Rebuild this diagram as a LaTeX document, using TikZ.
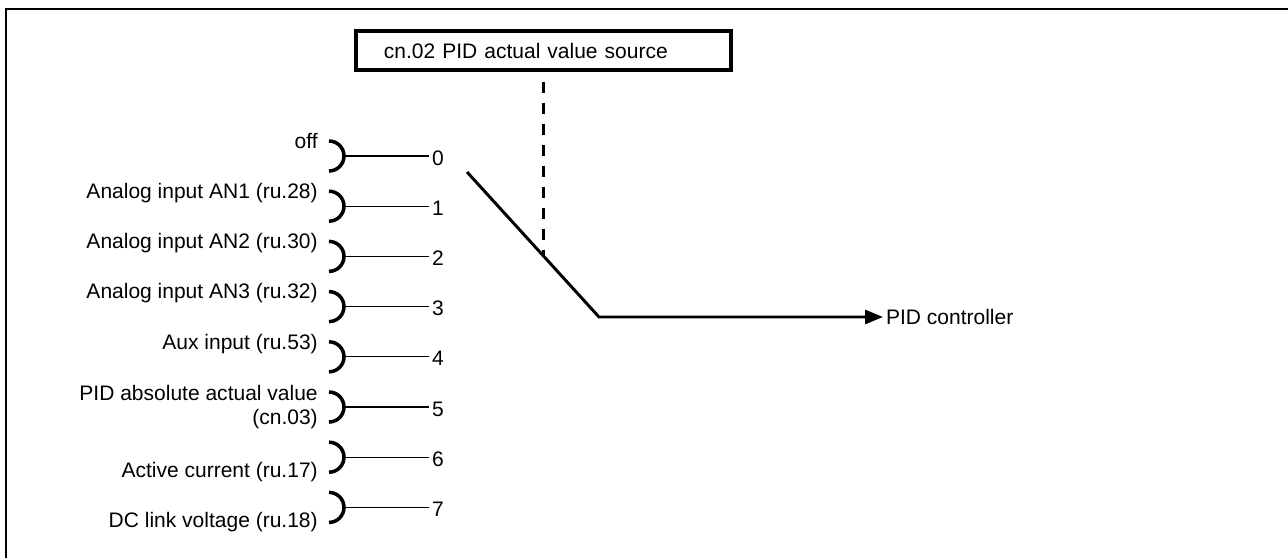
\documentclass[tikz,border=0pt]{standalone}
\usepackage{fontspec}
\setmainfont{Liberation Sans}
\usetikzlibrary{positioning, calc, arrows.meta}

\tikzset{
  pageframe/.style={line width=1.6pt},
  srcbox/.style={draw, line width=2.8pt, minimum width=9.375cm, minimum height=0.975cm,
    inner xsep=0.7cm, text width=7.975cm, align=left},
  seldash/.style={line width=2.2pt, dash pattern=on 7.8pt off 7.1pt, dash phase=7.8pt},
  inbrace/.style={line width=2.5pt},
  inwire/.style={line width=0.9pt},
  inlbl/.style={inner sep=0pt, align=right},
  numlbl/.style={inner xsep=2.1pt, inner ysep=0pt},
  switcharm/.style={line width=2.1pt},
  outlbl/.style={inner xsep=2pt}
}

\begin{document}
\begin{tikzpicture}[x=0.025cm, y=-0.025cm, font=\fontsize{14.94pt}{17pt}\selectfont]
\useasboundingbox (0,0) rectangle (1288,558);

% frame
\draw[pageframe] (1288,9) -| (6,558);

% source parameter
\node[srcbox] (src) at (543.5,50.5) {cn.02 PID actual value source};

% inputs 0..7
\foreach \n/\txt/\dy in {0/{off}/-8,
    1/{Analog input AN1 (ru.28)}/-8,
    2/{Analog input AN2 (ru.30)}/-8,
    3/{Analog input AN3 (ru.32)}/-8,
    4/{Aux input (ru.53)}/-7,
    5/{PID absolute actual value\\(cn.03)}/17,
    6/{Active current (ru.17)}/20,
    7/{DC link voltage (ru.18)}/20}{
  \coordinate (brk\n) at (344,{156+50.2*\n});
  \draw[inbrace] ([shift={(-15,-15)}]brk\n) arc[start angle=90, end angle=-90, radius=0.375cm];
  \node[inlbl, anchor=base east] (lbl\n) at (318,{156+50.2*\n+\dy}) {\txt};
  \node[numlbl, anchor=base west] (num\n) at (429,{156+50.2*\n+9}) {\n};
  \draw[inwire] (brk\n) -- (brk\n -| num\n.west);
}

% switch
\coordinate (arm) at (467,172);
\coordinate (knee) at (599,317);
\coordinate (tap) at ($(arm)!0.583!(knee)$);
\node[outlbl, anchor=west] (pid) at (883,317) {PID controller};
\draw[switcharm, -{Triangle[length=0.45cm, width=0.35cm]}] (arm) -- (knee) -- (pid.west);
\draw[seldash] (src.south) -- (src.south |- tap);
\end{tikzpicture}
\end{document}
